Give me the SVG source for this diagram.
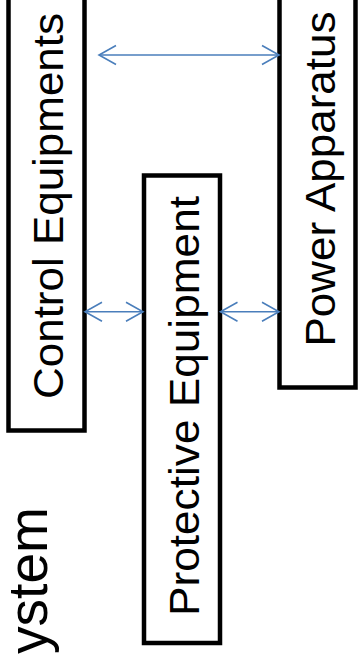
<svg xmlns="http://www.w3.org/2000/svg" width="358" height="660" viewBox="0 0 358 660">
<defs>
<style>
.box{fill:#ffffff;stroke:#000000;stroke-width:4.5;stroke-linejoin:miter}
.lbl{font-family:"Liberation Sans",Arial,sans-serif;font-size:42px;fill:#000000}
.big{font-family:"Liberation Sans",Arial,sans-serif;font-size:54.7px;fill:#000000}
.conn{stroke:#4A7EBB;stroke-width:1.6;fill:none;marker-start:url(#arr);marker-end:url(#arr)}
</style>
<marker id="arr" markerUnits="userSpaceOnUse" viewBox="-19 -11 21 22" markerWidth="21" markerHeight="22" refX="0" refY="0" orient="auto-start-reverse" overflow="visible">
<path d="M-17,-9.5 L0,0 L-17,9.5" fill="none" stroke="#4A7EBB" stroke-width="1.6"/>
</marker>
</defs>
<rect width="358" height="660" fill="#ffffff"/>
<g id="title">
<text class="big" transform="translate(46.7,654) rotate(-90)" textLength="147" lengthAdjust="spacingAndGlyphs">ystem</text>
</g>
<g id="control">
<rect class="box" x="8.5" y="-20" width="76" height="450.5"/>
<text class="lbl" transform="translate(63,399) rotate(-90)" textLength="386" lengthAdjust="spacingAndGlyphs">Control Equipments</text>
</g>
<g id="protective">
<rect class="box" x="144" y="175.5" width="76" height="467.5"/>
<text class="lbl" transform="translate(199,616) rotate(-90)" textLength="420" lengthAdjust="spacingAndGlyphs">Protective Equipment</text>
</g>
<g id="power">
<rect class="box" x="279.5" y="-20" width="76" height="407.5"/>
<text class="lbl" transform="translate(335,346.5) rotate(-90)" textLength="335" lengthAdjust="spacingAndGlyphs">Power Apparatus</text>
</g>
<g id="connectors">
<line class="conn" x1="99" y1="55" x2="279" y2="55"/>
<line class="conn" x1="85" y1="311.7" x2="143" y2="311.7"/>
<line class="conn" x1="220.5" y1="311.7" x2="279" y2="311.7"/>
</g>
</svg>
